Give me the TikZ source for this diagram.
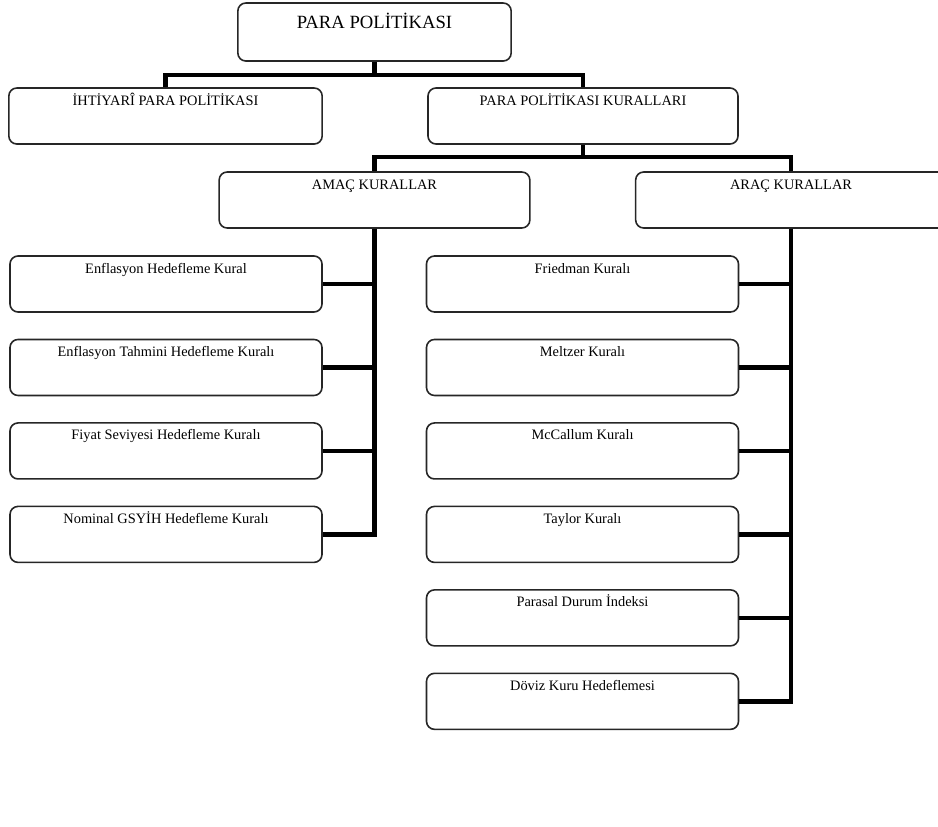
\documentclass[tikz,border=0pt]{standalone}
\usepackage{fontspec}
\setmainfont{Liberation Serif}
\usetikzlibrary{positioning}
\tikzset{
  kutu/.style={draw=black!85, rounded corners=6pt, line width=1.2pt, minimum width=234pt,
    inner xsep=0pt, inner ysep=0pt, text height=12.75pt, text depth=29.25pt,
    font=\fontsize{10.8}{12}\selectfont},
  baskutu/.style={kutu, minimum width=205pt, text height=18.75pt, text depth=24.75pt,
    font=\fontsize{14}{16}\selectfont},
  hat/.style={line width=3.4pt}
}
\begin{document}
\begin{tikzpicture}[x=0.75pt, y=-0.75pt, node distance=19.4pt]
    \useasboundingbox (0,0) rectangle (938,826);
    \clip (0,0) rectangle (938,826);

    \node[baskutu] (para) at (374.5,32) {PARA POLİTİKASI};
    \node[kutu, minimum width=235pt] (ihtiyari) at (165.5,116) {İHTİYARÎ PARA POLİTİKASI};
    \node[kutu, minimum width=232.5pt] (kurallar) at (583,116) {PARA POLİTİKASI KURALLARI};
    \node[kutu, minimum width=233pt] (amac) at (374.5,200) {AMAÇ KURALLAR};
    \node[kutu, minimum width=233pt] (arac) at (791,200) {ARAÇ KURALLAR};

    \node[kutu] (enfhedef) at (166,284) {Enflasyon Hedefleme Kural};
    \node[kutu] (enftahmin) [below=of enfhedef] {Enflasyon Tahmini Hedefleme Kuralı};
    \node[kutu] (fiyat) [below=of enftahmin] {Fiyat Seviyesi Hedefleme Kuralı};
    \node[kutu] (gsyih) [below=of fiyat] {Nominal GSYİH Hedefleme Kuralı};

    \node[kutu] (friedman) at (582.5,284) {Friedman Kuralı};
    \node[kutu] (meltzer) [below=of friedman] {Meltzer Kuralı};
    \node[kutu] (mccallum) [below=of meltzer] {McCallum Kuralı};
    \node[kutu] (taylor) [below=of mccallum] {Taylor Kuralı};
    \node[kutu] (parasal) [below=of taylor] {Parasal Durum İndeksi};
    \node[kutu] (doviz) [below=of parasal] {Döviz Kuru Hedeflemesi};

    \draw[hat] (para.south) -- ++(0,13) -| (ihtiyari.north);
    \draw[hat] (para.south) -- ++(0,13) -| (kurallar.north);
    \draw[hat] (kurallar.south) -- ++(0,12) -| (amac.north);
    \draw[hat] (kurallar.south) -- ++(0,12) -| (arac.north);

    \draw[hat] (amac.south) |- (enfhedef.east);
    \draw[hat] (amac.south) |- (enftahmin.east);
    \draw[hat] (amac.south) |- (fiyat.east);
    \draw[hat] (amac.south) |- (gsyih.east);

    \draw[hat] (arac.south) |- (friedman.east);
    \draw[hat] (arac.south) |- (meltzer.east);
    \draw[hat] (arac.south) |- (mccallum.east);
    \draw[hat] (arac.south) |- (taylor.east);
    \draw[hat] (arac.south) |- (parasal.east);
    \draw[hat] (arac.south) |- (doviz.east);
  \end{tikzpicture}
\end{document}
